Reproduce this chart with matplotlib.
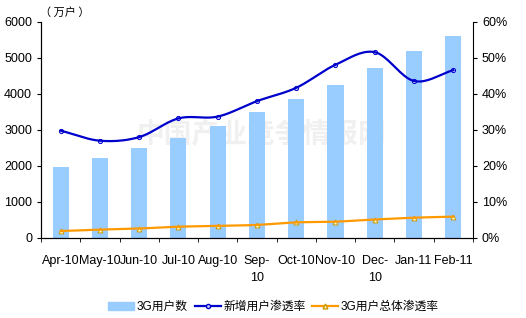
import numpy as np
import matplotlib.pyplot as plt
from matplotlib.lines import Line2D
from matplotlib.patches import Patch

plt.rcParams['font.family'] = ['Liberation Sans', 'Noto Sans CJK SC', 'DejaVu Sans']

months = ['Apr-10', 'May-10', 'Jun-10', 'Jul-10', 'Aug-10', 'Sep-\n10',
          'Oct-10', 'Nov-10', 'Dec-\n10', 'Jan-11', 'Feb-11']
users_3g = [1970, 2230, 2500, 2780, 3110, 3500, 3860, 4250, 4720, 5190, 5610]
new_rate = [29.8, 27.0, 28.0, 33.2, 33.7, 38.0, 41.7, 48.1, 51.6, 43.6, 46.6]
total_rate = [1.9, 2.3, 2.6, 3.1, 3.3, 3.6, 4.3, 4.5, 5.1, 5.6, 5.9]


def smooth(x, y, n=20):
    # catmull-rom style curve like the excel "smoothed line"
    x = np.asarray(x, float)
    y = np.asarray(y, float)
    px = np.concatenate([[2 * x[0] - x[1]], x, [2 * x[-1] - x[-2]]])
    py = np.concatenate([[2 * y[0] - y[1]], y, [2 * y[-1] - y[-2]]])
    xs, ys = [], []
    t = np.linspace(0, 1, n, endpoint=False)
    for i in range(1, len(px) - 2):
        for p, out in ((px, xs), (py, ys)):
            p0, p1, p2, p3 = p[i - 1], p[i], p[i + 1], p[i + 2]
            out.extend(0.5 * (2 * p1 + (-p0 + p2) * t
                              + (2 * p0 - 5 * p1 + 4 * p2 - p3) * t ** 2
                              + (-p0 + 3 * p1 - 3 * p2 + p3) * t ** 3))
    xs.append(x[-1])
    ys.append(y[-1])
    return xs, ys


fig = plt.figure(figsize=(5.26, 3.18), dpi=100)
ax = fig.add_axes([0.078, 0.252, 0.821, 0.679])
ax2 = ax.twinx()

x = np.arange(len(months))
bar_c = '#99ccff'
ax.bar(x, users_3g, width=0.41, color=bar_c, zorder=2)
ax.text(0.51, 0.48, '中国产业竞争情报网', transform=ax.transAxes, fontsize=20,
        color='#f0f0f0', ha='center', va='center', family=['Noto Sans CJK SC'],
        weight='bold', zorder=1)
ax.set_xlim(-0.5, len(months) - 0.5)
ax.set_ylim(0, 6000)
ax.set_yticks(range(0, 6001, 1000))
ax.set_xticks(x)
ax.set_xticklabels(months, fontsize=9, linespacing=1.6)
ax.set_xticks(np.arange(-0.5, len(months), 1), minor=True)
ax.tick_params(axis='x', which='major', length=0, pad=12)
ax.tick_params(axis='x', which='minor', length=3, direction='out')
ax.tick_params(axis='y', labelsize=9, length=3)
for s in ['top', 'right']:
    ax.spines[s].set_visible(False)

xb, yb = smooth(x, new_rate)
ax2.plot(xb, yb, color='#0000cc', lw=1.6, zorder=3)
ax2.plot(x, new_rate, ls='none', marker='o', ms=3, mfc='#ccccff', mec='#0000cc', mew=0.7)
xo, yo = smooth(x, total_rate)
ax2.plot(xo, yo, color='#ff9900', lw=1.6, zorder=3)
ax2.plot(x, total_rate, ls='none', marker='^', ms=3.5, mfc='#ffffcc', mec='#cc9900', mew=0.7)
ax2.set_ylim(0, 60)
ax2.set_yticks(range(0, 61, 10))
ax2.set_yticklabels([f'{v}%' for v in range(0, 61, 10)])
ax2.tick_params(axis='y', labelsize=9, length=3)
ax2.spines['top'].set_visible(False)

fig.text(0.076, 0.945, '（ 万户 ）', fontsize=8, family=['Noto Sans CJK SC'], va='bottom')

handles = [Patch(color=bar_c),
           Line2D([], [], color='#0000cc', lw=1.6, marker='o', ms=3, mfc='#ccccff'),
           Line2D([], [], color='#ff9900', lw=1.6, marker='^', ms=3.5, mfc='#ffffcc', mec='#cc9900')]
fig.legend(handles, ['3G用户数', '新增用户渗透率', '3G用户总体渗透率'], loc='center',
           bbox_to_anchor=(0.52, 0.035), ncol=3, frameon=False,
           prop={'family': ['Liberation Sans', 'Noto Sans CJK SC'], 'size': 8.5},
           handlelength=2.2, columnspacing=0.6, handletextpad=0.2)

fig.savefig('out.png', dpi=100)
